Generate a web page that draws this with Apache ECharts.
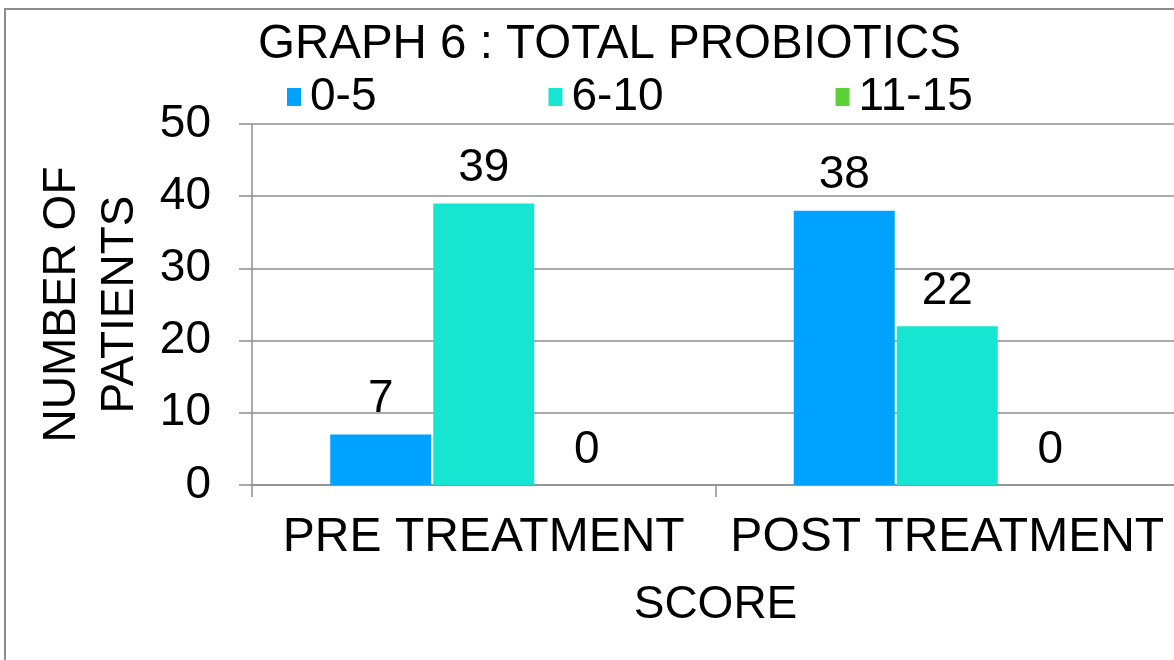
<!DOCTYPE html>
<html>
<head>
<meta charset="utf-8">
<script src="https://cdn.jsdelivr.net/npm/echarts@6/dist/echarts.min.js"></script>
<style>
html,body{margin:0;padding:0;background:#fff;overflow:hidden;width:1174px;height:660px;}
#c{width:1180px;height:660px;}
</style>
</head>
<body>
<div id="c"></div>
<script>
const categories = ['PRE TREATMENT', 'POST TREATMENT'];
const seriesNames = ['0-5', '6-10', '11-15'];
const values0to5 = [7, 38];
const values6to10 = [39, 22];
const values11to15 = [0, 0];
const yTicks = [0, 10, 20, 30, 40, 50];

const FONT = 'Liberation Sans, Arial, sans-serif';
const colors = ['#00A2FF', '#16E6D1', '#5BD137'];
const gridColor = '#8f8f8f';

const chart = echarts.init(document.getElementById('c'));
const mkSeries = (name, data, color) => ({
  name: name,
  type: 'bar',
  data: data,
  barWidth: 101,
  barGap: '2%',
  itemStyle: { color: color },
  label: {
    show: true,
    position: 'top',
    distance: 12,
    color: '#000',
    fontFamily: FONT,
    fontSize: 46
  }
});
chart.setOption({
  animation: false,
  backgroundColor: '#fff',
  graphic: [{
    type: 'rect',
    shape: { x: 5, y: 9, width: 1300, height: 800 },
    style: { fill: 'none', stroke: '#8c8c8c', lineWidth: 2 },
    silent: true,
    z: -1
  }],
  title: {
    text: 'GRAPH 6 : TOTAL PROBIOTICS',
    left: 258,
    top: 21,
    padding: 0,
    textStyle: { fontFamily: FONT, fontSize: 47.5, fontWeight: 'normal', color: '#000', lineHeight: 47 }
  },
  legend: {
    data: seriesNames,
    left: 287,
    top: 74,
    padding: 0,
    itemWidth: 14,
    itemHeight: 18,
    itemGap: 172,
    icon: 'rect',
    textStyle: { fontFamily: FONT, fontSize: 46, color: '#000', lineHeight: 46, padding: [0, 0, 0, 4] }
  },
  grid: { left: 252, width: 927, top: 124, height: 361, containLabel: false },
  xAxis: {
    type: 'category',
    data: categories,
    boundaryGap: true,
    name: 'SCORE',
    nameLocation: 'middle',
    nameGap: 97,
    nameTextStyle: { fontFamily: FONT, fontSize: 46, color: '#000', lineHeight: 46 },
    axisLine: { show: true, lineStyle: { color: gridColor, width: 1.5 } },
    axisTick: { show: true, length: 12, alignWithLabel: false, lineStyle: { color: gridColor, width: 1.5 } },
    axisLabel: { interval: 0, hideOverlap: false, margin: 29, fontFamily: FONT, fontSize: 48, color: '#000', lineHeight: 48 }
  },
  yAxis: {
    type: 'value',
    min: yTicks[0],
    max: yTicks[yTicks.length - 1],
    interval: yTicks[1] - yTicks[0],
    name: 'NUMBER OF\nPATIENTS',
    nameLocation: 'middle',
    nameRotate: 90,
    nameGap: 94,
    nameTextStyle: { fontFamily: FONT, fontSize: 46, color: '#000', lineHeight: 58, align: 'center' },
    axisLine: { show: true, lineStyle: { color: gridColor, width: 1.5 } },
    axisTick: { show: true, length: 13, lineStyle: { color: gridColor, width: 1.5 } },
    splitLine: { show: true, lineStyle: { color: gridColor, width: 1.5 } },
    axisLabel: { margin: 41, fontFamily: FONT, fontSize: 46, color: '#000' }
  },
  series: [
    mkSeries(seriesNames[0], values0to5, colors[0]),
    mkSeries(seriesNames[1], values6to10, colors[1]),
    mkSeries(seriesNames[2], values11to15, colors[2])
  ]
});
</script>
</body>
</html>
